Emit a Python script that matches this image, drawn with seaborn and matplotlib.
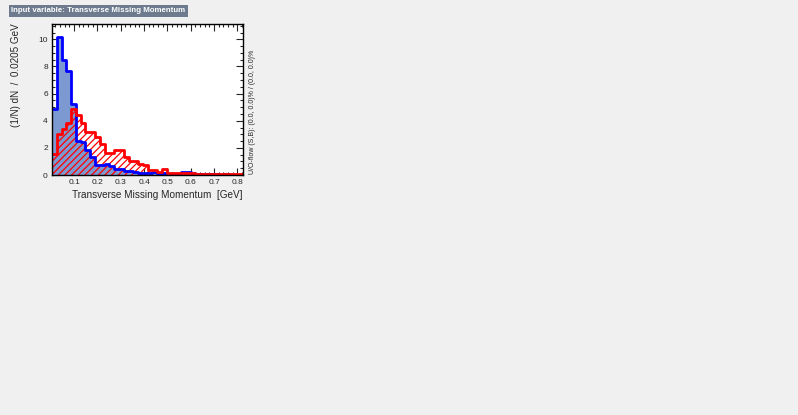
import numpy as np
import pandas as pd
import matplotlib
matplotlib.use("Agg")
import matplotlib.pyplot as plt
import seaborn as sns

# 40 bins of 0.0205 GeV, normalised histograms
x_start = 0.005
bin_width = 0.0205
signal = [4.9, 10.15, 8.5, 7.7, 5.24, 2.5, 2.45, 1.85, 1.3, 0.75,
          0.72, 0.8, 0.65, 0.45, 0.42, 0.3, 0.28, 0.22, 0.18, 0.15,
          0.12, 0.2, 0.1, 0.12, 0.08, 0.1, 0.08, 0.2, 0.22, 0.12,
          0.08, 0.06, 0.1, 0.05, 0.04, 0.03, 0.04, 0.03, 0.02, 0.03]
background = [1.55, 3.0, 3.42, 3.8, 4.9, 4.41, 3.8, 3.15, 3.15, 2.83,
              2.3, 1.6, 1.6, 1.85, 1.85, 1.3, 1.02, 1.02, 0.84, 0.72,
              0.4, 0.37, 0.22, 0.45, 0.18, 0.18, 0.12, 0.18, 0.18, 0.15,
              0.1, 0.08, 0.06, 0.05, 0.05, 0.04, 0.05, 0.04, 0.04, 0.05]
xticks = [0.1, 0.2, 0.3, 0.4, 0.5, 0.6, 0.7, 0.8]
yticks = [0, 2, 4, 6, 8, 10]

edges = list(x_start + bin_width * np.arange(len(signal) + 1))
centers = [0.5 * (a + b) for a, b in zip(edges[:-1], edges[1:])]
df = pd.DataFrame({"x": centers, "S": signal, "B": background})

sns.set_style("ticks")
plt.rcParams["font.family"] = ["Liberation Sans", "DejaVu Sans"]
plt.rcParams["hatch.color"] = "red"
plt.rcParams["hatch.linewidth"] = 0.9

fig = plt.figure(figsize=(7.98, 4.15), dpi=100, facecolor="#f0f0f0")
ax = fig.add_axes([52 / 798, 1 - 175 / 415, 191.3 / 798, 151 / 415])
ax.set_facecolor("white")

# signal: filled blue
sns.histplot(df, x="x", weights="S", bins=edges, element="step", fill=True,
             color="#7d99d1", edgecolor="none", linewidth=0, alpha=1, ax=ax)
# background: red hatch
sns.histplot(df, x="x", weights="B", bins=edges, element="step", fill=True,
             color="red", facecolor="none", edgecolor="red", hatch="/////",
             linewidth=0, alpha=1, ax=ax)
# outlines
sns.histplot(df, x="x", weights="S", bins=edges, element="step", fill=False,
             color="#0000ff", linewidth=2.0, ax=ax)
sns.histplot(df, x="x", weights="B", bins=edges, element="step", fill=False,
             color="#ff0000", linewidth=2.0, ax=ax)

ax.set_xlim(edges[0], edges[-1])
ax.set_ylim(0, 11.13)
ax.set_xticks(xticks)
ax.set_xticklabels([f"{t:.1f}" for t in xticks])
ax.set_yticks(yticks)
ax.set_xticks(np.arange(0.02, 0.83, 0.02), minor=True)
ax.set_yticks(np.arange(0, 11.1, 0.5), minor=True)
ax.tick_params(which="both", direction="in", top=True, right=True, width=0.8,
               labelsize=6.0, pad=3)
ax.tick_params(which="major", length=5)
ax.tick_params(which="minor", length=2.5)
for s in ax.spines.values():
    s.set_linewidth(1)
    s.set_color("black")
ax.set_xlabel("")
ax.set_ylabel("")

fig.text(243 / 798, 1 - 195 / 415, "Transverse Missing Momentum  [GeV]",
         ha="right", va="center", fontsize=7.2)
fig.text(16 / 798, 1 - 23 / 415, "(1/N) dN  /  0.0205 GeV", rotation=90,
         ha="center", va="top", fontsize=7.1)
fig.text(252 / 798, 1 - 174 / 415, "U/O-flow (S,B): (0.0, 0.0)% / (0.0, 0.0)%",
         rotation=90, ha="center", va="bottom", fontsize=5.0)
fig.text(11 / 798, 1 - 11 / 415, "Input variable: Transverse Missing Momentum",
         ha="left", va="center", fontsize=5.7, fontweight="bold", color="white",
         bbox=dict(boxstyle="square,pad=0.3", facecolor="#6e7b8e", edgecolor="none"))

fig.savefig("out.png", dpi=100, facecolor=fig.get_facecolor())
